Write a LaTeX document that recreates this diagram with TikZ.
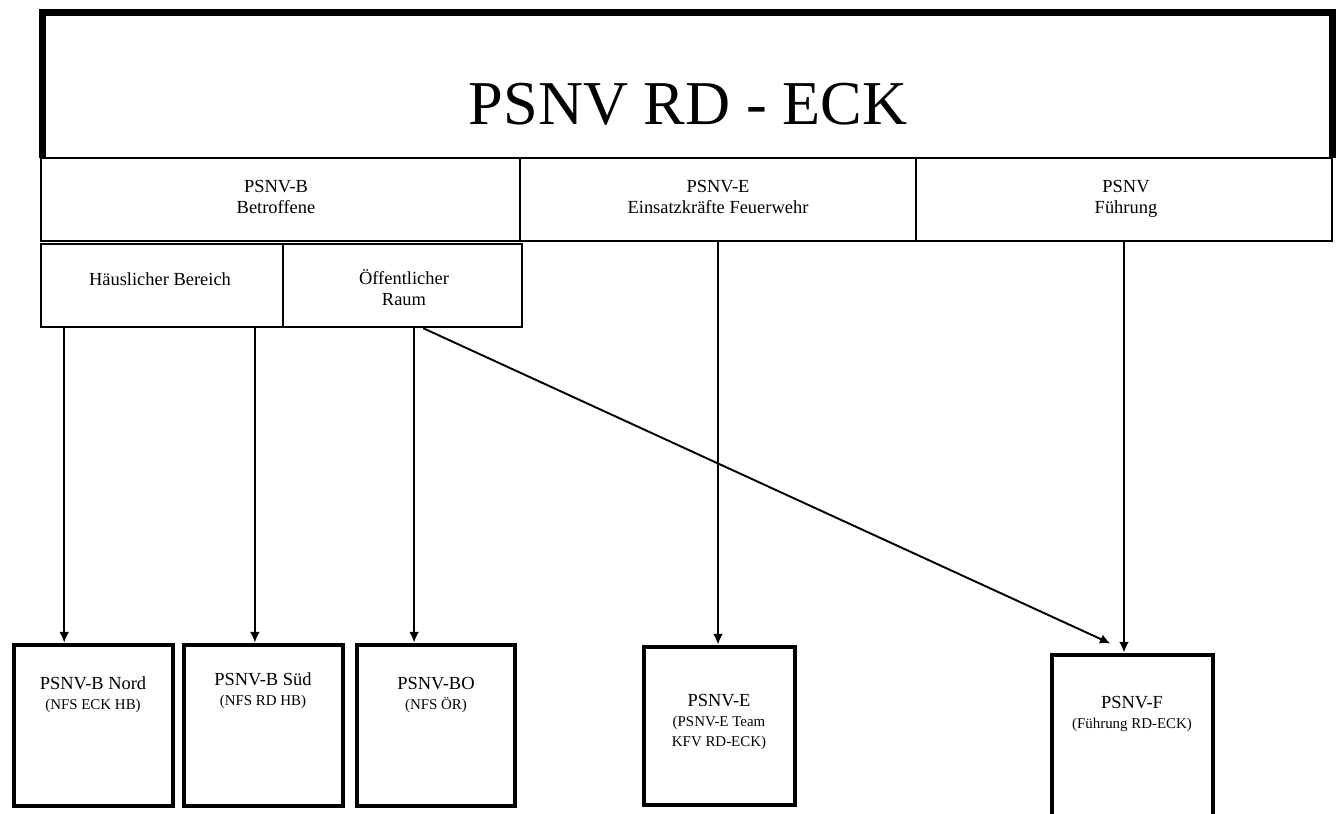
\documentclass[tikz,border=0pt]{standalone}
\usepackage{fontspec}
\setmainfont{Liberation Serif}
\usetikzlibrary{arrows.meta,fit,calc}
\tikzset{
  headline/.style={line width=4.2pt},
  catbox/.style={draw=black,line width=1.4pt,inner sep=0pt},
  teambox/.style={draw=black,line width=2.8pt,inner sep=0pt},
  cattext/.style={align=center,font=\fontsize{10.5}{12}\selectfont},
  teamtext/.style={align=center,font=\fontsize{10.5}{11.5}\selectfont},
  flow/.style={-{Latex[length=6pt,width=5.5pt]},line width=1.1pt},
}
\newcommand{\subline}[1]{{\fontsize{8.5}{10}\selectfont #1}}

\begin{document}
\begin{tikzpicture}[x=0.02cm,y=-0.02cm]
    \clip (0,0) rectangle (1340,814);
    % head
    \node[fit={(43,13) (1332,158)},inner sep=0pt] (head) {};
    \draw[headline] (head.south west) |- (head.north east) -- (head.south east);
    \node[font=\fontsize{35.5}{38}\selectfont] (title) at (688,104) {PSNV RD - ECK};
    % categories
    \node[catbox,fit={(41,158) (520,241)}] (pb) {};
    \node[catbox,fit={(520,158) (916,241)}] (pe) {};
    \node[catbox,fit={(916,158) (1332,241)}] (pf) {};
    \node[cattext] (pbtxt) at (276,197) {PSNV-B\\Betroffene};
    \node[cattext] (petxt) at (718,197) {PSNV-E\\Einsatzkräfte Feuerwehr};
    \node[cattext] (pftxt) at (1126,199) {PSNV\\Führung};
    \node[catbox,fit={(41,244) (283,327)}] (hb) {};
    \node[catbox,fit={(283,244) (522,327)}] (or) {};
    \node[cattext] (hbtxt) at (160,279) {Häuslicher Bereich};
    \node[cattext] (ortxt) at (404,288) {Öffentlicher\\Raum};
    % teams
    \node[teambox,fit={(14,645) (173,806)}] (nord) {};
    \node[teambox,fit={(184,645) (343,806)}] (sued) {};
    \node[teambox,fit={(357,645) (515,806)}] (bo) {};
    \node[teambox,fit={(644,647) (795,805)}] (team) {};
    \node[teambox,fit={(1052,655) (1213,840)}] (fuehr) {};
    \node[teamtext] (nordtxt) at (93,695) {PSNV-B Nord\\\subline{(NFS ECK HB)}};
    \node[teamtext] (suedtxt) at (263,691) {PSNV-B Süd\\\subline{(NFS RD HB)}};
    \node[teamtext] (botxt) at (436,695) {PSNV-BO\\\subline{(NFS ÖR)}};
    \node[teamtext] (teamtxt) at (719,722) {PSNV-E\\\subline{(PSNV-E Team}\\\subline{KFV RD-ECK)}};
    \node[teamtext] (fuehrtxt) at (1132,714) {PSNV-F\\\subline{(Führung RD-ECK)}};
    % connectors
    \coordinate (hbl) at ($(hb.south west)!.1!(hb.south east)$);
    \coordinate (hbr) at ($(hb.south west)!.88!(hb.south east)$);
    \coordinate (orl) at ($(or.south west)!.548!(or.south east)$);
    \coordinate (ord) at ($(or.south west)!.586!(or.south east)$);
    \draw[flow] (hbl) -- (hbl |- nord.north);
    \draw[flow] (hbr) -- (hbr |- sued.north);
    \draw[flow] (orl) -- (orl |- bo.north);
    \draw[flow] (ord) -- ($(fuehr.north)+(-22,-9)$);
    \draw[flow] (pe.south) -- (pe.south |- team.north);
    \draw[flow] (pf.south) -- (pf.south |- fuehr.north);
\end{tikzpicture}
\end{document}
